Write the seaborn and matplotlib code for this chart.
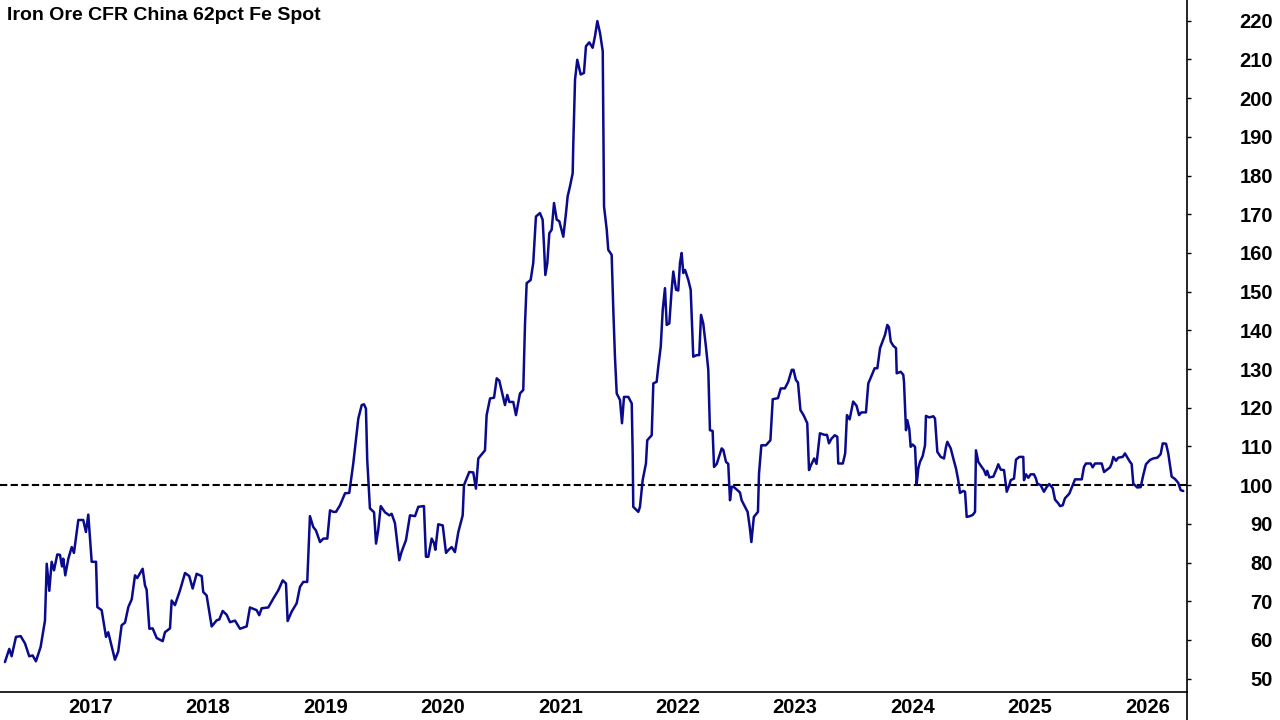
import matplotlib
matplotlib.use("Agg")
import matplotlib.pyplot as plt
import matplotlib.transforms as mtransforms
from matplotlib.lines import Line2D
import seaborn as sns
import pandas as pd

# chart data (decimal year, USD/t)
dates = [
    2016.486, 2016.523, 2016.543, 2016.580, 2016.620, 2016.657, 2016.693, 2016.722, 2016.750, 2016.790,
    2016.827, 2016.842, 2016.864, 2016.884, 2016.904, 2016.932, 2016.955, 2016.972, 2016.983, 2017.000,
    2017.026, 2017.055, 2017.074, 2017.111, 2017.153, 2017.176, 2017.196, 2017.225, 2017.262, 2017.273,
    2017.310, 2017.347, 2017.366, 2017.423, 2017.451, 2017.480, 2017.509, 2017.537, 2017.566, 2017.594,
    2017.613, 2017.659, 2017.679, 2017.693, 2017.716, 2017.744, 2017.764, 2017.779, 2017.830, 2017.849,
    2017.892, 2017.906, 2017.934, 2017.977, 2018.020, 2018.056, 2018.085, 2018.119, 2018.162, 2018.175,
    2018.204, 2018.247, 2018.290, 2018.312, 2018.341, 2018.375, 2018.403, 2018.446, 2018.488, 2018.545,
    2018.573, 2018.630, 2018.652, 2018.673, 2018.729, 2018.772, 2018.814, 2018.852, 2018.880, 2018.894,
    2018.928, 2018.971, 2018.999, 2019.027, 2019.061, 2019.084, 2019.112, 2019.135, 2019.170, 2019.198,
    2019.232, 2019.255, 2019.283, 2019.306, 2019.340, 2019.383, 2019.419, 2019.453, 2019.496, 2019.525,
    2019.544, 2019.561, 2019.572, 2019.595, 2019.630, 2019.647, 2019.666, 2019.687, 2019.723, 2019.760,
    2019.780, 2019.808, 2019.845, 2019.865, 2019.902, 2019.936, 2019.979, 2020.007, 2020.055, 2020.072,
    2020.092, 2020.121, 2020.141, 2020.152, 2020.177, 2020.215, 2020.243, 2020.262, 2020.291, 2020.319,
    2020.348, 2020.385, 2020.396, 2020.441, 2020.475, 2020.498, 2020.518, 2020.575, 2020.589, 2020.618,
    2020.652, 2020.675, 2020.697, 2020.745, 2020.765, 2020.782, 2020.816, 2020.839, 2020.873, 2020.901,
    2020.916, 2020.930, 2020.964, 2020.986, 2021.001, 2021.009, 2021.043, 2021.066, 2021.078, 2021.089,
    2021.106, 2021.123, 2021.143, 2021.163, 2021.186, 2021.208, 2021.242, 2021.265, 2021.279, 2021.299,
    2021.322, 2021.327, 2021.342, 2021.361, 2021.390, 2021.418, 2021.435, 2021.463, 2021.492, 2021.512,
    2021.532, 2021.555, 2021.578, 2021.583, 2021.589, 2021.612, 2021.625, 2021.654, 2021.668, 2021.682,
    2021.697, 2021.725, 2021.742, 2021.759, 2021.796, 2021.825, 2021.833, 2021.838, 2021.881, 2021.895,
    2021.918, 2021.946, 2021.957, 2021.995, 2022.009, 2022.037, 2022.051, 2022.072, 2022.089, 2022.108,
    2022.123, 2022.145, 2022.165, 2022.179, 2022.202, 2022.221, 2022.236, 2022.250, 2022.264, 2022.279,
    2022.307, 2022.327, 2022.336, 2022.349, 2022.378, 2022.400, 2022.415, 2022.434, 2022.457, 2022.477,
    2022.491, 2022.514, 2022.526, 2022.549, 2022.591, 2022.605, 2022.628, 2022.647, 2022.662, 2022.676,
    2022.696, 2022.747, 2022.761, 2022.812, 2022.830, 2022.844, 2022.865, 2022.900, 2022.909, 2022.929,
    2022.968, 2023.006, 2023.026, 2023.071, 2023.094, 2023.129, 2023.158, 2023.188, 2023.203, 2023.223,
    2023.241, 2023.262, 2023.290, 2023.320, 2023.335, 2023.349, 2023.379, 2023.399, 2023.428, 2023.467,
    2023.488, 2023.505, 2023.526, 2023.555, 2023.576, 2023.584, 2023.623, 2023.643, 2023.658, 2023.681,
    2023.711, 2023.740, 2023.761, 2023.781, 2023.820, 2023.840, 2023.864, 2023.894, 2023.917, 2023.940,
    2023.982, 2024.002, 2024.016, 2024.031, 2024.053, 2024.076, 2024.082, 2024.116, 2024.138, 2024.144,
    2024.153, 2024.161, 2024.172, 2024.189, 2024.201, 2024.218, 2024.238, 2024.252, 2024.266, 2024.280,
    2024.303, 2024.323, 2024.331, 2024.359, 2024.394, 2024.408, 2024.428, 2024.457, 2024.485, 2024.502,
    2024.513, 2024.542, 2024.564, 2024.587, 2024.606, 2024.621, 2024.649, 2024.664, 2024.678, 2024.706,
    2024.729, 2024.749, 2024.757, 2024.777, 2024.806, 2024.825, 2024.842, 2024.853, 2024.871, 2024.905,
    2024.934, 2024.947, 2024.968, 2024.996, 2025.019, 2025.041, 2025.053, 2025.081, 2025.098, 2025.126,
    2025.160, 2025.166, 2025.183, 2025.203, 2025.223, 2025.251, 2025.268, 2025.279, 2025.308, 2025.336,
    2025.359, 2025.382, 2025.411, 2025.430, 2025.458, 2025.473, 2025.496, 2025.515, 2025.552, 2025.581,
    2025.601, 2025.658, 2025.677, 2025.694, 2025.734, 2025.751, 2025.771, 2025.828, 2025.848, 2025.899,
    2025.913, 2025.927, 2025.950, 2025.969, 2026.007, 2026.026, 2026.069, 2026.083, 2026.097, 2026.131,
    2026.160, 2026.182, 2026.205, 2026.239, 2026.267, 2026.302, 2026.330, 2026.348, 2026.376, 2026.395,
    2026.424, 2026.452, 2026.480, 2026.501, 2026.523,
]
price = [
    54.3, 57.7, 55.8, 60.8, 61.0, 59.1, 55.8, 56.0, 54.5, 58.2,
    65.0, 79.7, 72.7, 80.2, 78.0, 82.1, 82.0, 79.0, 81.0, 76.7,
    81.0, 84.0, 82.5, 91.0, 91.0, 87.9, 92.4, 80.2, 80.2, 68.5,
    67.7, 60.8, 62.0, 54.9, 57.0, 63.8, 64.5, 68.5, 70.5, 76.7,
    76.0, 78.4, 74.1, 73.0, 62.9, 63.0, 61.6, 60.5, 59.7, 62.0,
    63.0, 70.2, 69.0, 72.8, 77.3, 76.5, 73.3, 77.1, 76.5, 72.4,
    71.5, 63.5, 65.1, 65.3, 67.5, 66.5, 64.6, 65.0, 62.9, 63.5,
    68.4, 67.7, 66.4, 68.2, 68.4, 70.7, 72.8, 75.4, 74.6, 64.9,
    67.3, 69.5, 73.7, 75.0, 75.0, 92.0, 89.2, 88.3, 85.3, 86.2,
    86.2, 93.5, 93.1, 93.1, 94.8, 97.9, 98.0, 105.6, 117.2, 120.7,
    120.9, 119.8, 106.5, 94.0, 93.0, 84.9, 88.5, 94.6, 93.0, 92.2,
    92.6, 90.2, 80.6, 82.8, 85.8, 92.2, 92.0, 94.4, 94.6, 81.5,
    81.5, 86.2, 85.0, 83.3, 89.9, 89.6, 82.5, 83.2, 84.0, 82.7,
    87.9, 92.2, 100.0, 103.4, 103.3, 99.1, 106.9, 109.0, 118.1, 122.4,
    122.6, 127.6, 127.0, 120.7, 123.3, 121.5, 121.5, 118.1, 123.7, 124.6,
    141.8, 152.2, 153.0, 157.4, 165.1, 169.4, 170.3, 168.6, 161.7, 154.3,
    157.4, 165.1, 166.0, 172.9, 168.6, 168.2, 164.2, 170.3, 174.6, 177.2,
    180.6, 188.0, 204.8, 209.9, 206.1, 206.5, 213.4, 214.4, 213.0, 216.0,
    219.9, 216.8, 212.1, 192.3, 172.0, 166.0, 160.8, 159.5, 145.3, 133.2,
    123.7, 122.0, 116.0, 122.8, 122.8, 121.1, 108.2, 94.4, 93.1, 94.4,
    101.3, 105.6, 111.6, 112.9, 126.3, 126.7, 130.6, 135.8, 145.3, 150.9,
    141.4, 141.8, 150.5, 155.2, 150.5, 150.3, 157.4, 160.0, 154.8, 155.6,
    153.0, 150.5, 143.5, 133.2, 133.6, 133.6, 144.0, 141.8, 135.8, 129.8,
    114.2, 114.0, 104.7, 105.5, 109.5, 109.1, 106.0, 105.5, 96.1, 99.6,
    99.5, 98.1, 96.1, 93.1, 89.2, 85.3, 91.8, 93.1, 103.0, 110.3,
    110.3, 111.6, 122.2, 122.5, 125.0, 125.0, 126.7, 129.8, 129.8, 127.2,
    126.5, 119.4, 118.0, 116.0, 103.9, 105.0, 106.9, 105.5, 113.4, 113.0,
    113.0, 110.8, 112.0, 112.9, 112.5, 105.6, 105.6, 108.2, 118.1, 117.0,
    121.6, 120.5, 118.1, 118.8, 118.8, 126.3, 128.0, 130.2, 130.2, 135.4,
    138.8, 141.4, 140.8, 137.1, 136.0, 135.4, 128.9, 129.3, 128.5, 126.7,
    120.3, 114.2, 116.8, 114.5, 109.9, 110.5, 109.9, 100.3, 104.3, 106.0,
    107.5, 110.3, 117.9, 117.5, 117.8, 117.2, 108.6, 107.3, 106.9, 109.9,
    111.2, 109.5, 106.9, 104.3, 101.3, 98.0, 98.5, 98.3, 91.8, 92.0,
    92.3, 93.1, 109.0, 106.0, 104.7, 103.9, 102.6, 103.7, 102.0, 102.2,
    104.3, 105.4, 104.0, 103.9, 98.3, 100.0, 101.3, 101.7, 106.6, 107.3,
    107.3, 101.3, 102.8, 101.9, 102.8, 102.8, 101.7, 100.4, 100.0, 98.3,
    99.5, 100.3, 99.2, 96.3, 95.3, 94.6, 94.8, 96.6, 97.8, 100.0,
    101.5, 101.5, 104.7, 105.6, 105.6, 104.6, 105.6, 105.6, 103.4, 104.6,
    105.6, 107.3, 106.3, 107.1, 107.3, 108.2, 106.0, 105.5, 100.4, 99.4,
    99.5, 102.6, 105.4, 106.5, 106.9, 107.1, 108.0, 110.8, 110.7, 108.2,
    102.2, 101.6, 100.6, 98.7, 98.5,
]
years = list(range(2017, 2027))
y_ticks = list(range(50, 230, 10))
ref_level = 100
title = "Iron Ore CFR China 62pct Fe Spot"

df = pd.DataFrame({"date": dates, "price": price})

sns.set_style("white")
plt.rcParams["font.family"] = ["Liberation Sans", "DejaVu Sans"]
plt.rcParams["font.weight"] = "bold"
plt.rcParams["text.color"] = "black"
plt.rcParams["xtick.color"] = "black"
plt.rcParams["ytick.color"] = "black"

fig = plt.figure(figsize=(12.8, 7.2), dpi=100)
ax = fig.add_axes([0.0, 28 / 720, 1186.7 / 1280, 692 / 720])

ax.axhline(ref_level, color="black", lw=1.5, ls=(0, (3.5, 1.6)), zorder=1)
sns.lineplot(data=df, x="date", y="price", ax=ax, color="#0a0a8c", lw=1.8,
             estimator=None, sort=False, zorder=2)

ax.set_xlim(2016.444, 2026.552)
ax.set_ylim(46.56, 225.35)
ax.set_xlabel("")
ax.set_ylabel("")

# y axis on the right, labels right-aligned
ax.yaxis.tick_right()
ax.set_yticks(y_ticks)
ax.set_yticklabels([str(v) for v in y_ticks], ha="right", fontsize=14.5, fontweight="bold")
ax.tick_params(axis="y", direction="out", length=3, width=1, pad=59)

# x ticks at year start, labels just right of the tick
ax.set_xticks(years)
ax.set_xticklabels([str(y) for y in years], ha="left", fontsize=14.5, fontweight="bold")
ax.tick_params(axis="x", direction="out", length=3.5, width=1, pad=0.5)
offset = mtransforms.ScaledTranslation(3 / 100, 0, fig.dpi_scale_trans)
for lbl in ax.get_xticklabels():
    lbl.set_transform(lbl.get_transform() + offset)

for side in ["top", "left"]:
    ax.spines[side].set_visible(False)
for side in ["right", "bottom"]:
    ax.spines[side].set_color("black")
    ax.spines[side].set_linewidth(1.2)

# right axis line runs down to the bottom edge
fig.add_artist(Line2D([1186.7 / 1280] * 2, [0, 28 / 720], transform=fig.transFigure,
                      color="black", lw=1.2))

fig.text(7 / 1280, 1 - 15 / 720, title, ha="left", va="center",
         fontsize=14, fontweight="bold")

fig.savefig("out.png", dpi=100)
